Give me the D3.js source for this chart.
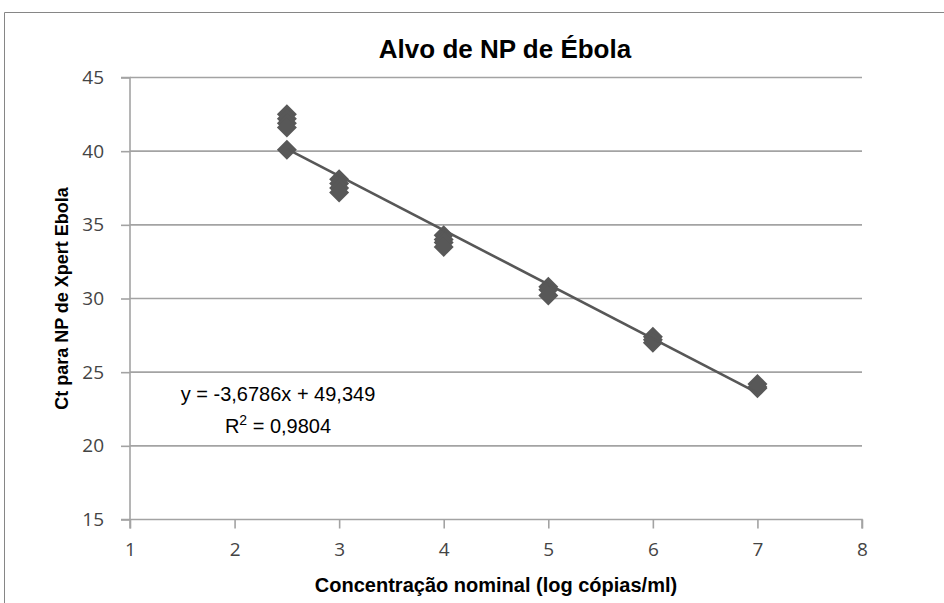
<!DOCTYPE html>
<html>
<head>
<meta charset="utf-8">
<script src="https://cdn.jsdelivr.net/npm/d3@7/dist/d3.min.js"></script>
<style>
  html, body { margin: 0; padding: 0; background: #fff; }
  svg { display: block; }
</style>
</head>
<body>
<svg id="chart" width="944" height="603"></svg>
<script>
// Concentration levels (log copies/ml) and measured Ct values at each level
const concLevels = [2.5, 2.5, 2.5, 2.5, 2.5, 3, 3, 3, 3, 4, 4, 4, 4, 5, 5, 5, 6, 6, 6, 7, 7, 7];
const ctValues   = [42.5, 42.2, 41.9, 41.6, 40.1, 38.1, 37.8, 37.5, 37.2, 34.3, 34.0, 33.8, 33.5, 30.8, 30.6, 30.2, 27.4, 27.2, 27.0, 24.2, 24.0, 23.9];

// Linear trendline
const slope = -3.6786;
const intercept = 49.349;
const rSquared = 0.9804;
const trendRange = [2.5, 7];

const xTicks = [1, 2, 3, 4, 5, 6, 7, 8];
const yTicks = [15, 20, 25, 30, 35, 40, 45];

const title = "Alvo de NP de Ébola";
const xTitle = "Concentração nominal (log cópias/ml)";
const yTitle = "Ct para NP de Xpert Ebola";

const fmt = v => String(v).replace(".", ",");

const svg = d3.select("#chart");

// outer chart frame (only top and left edges fall inside the view)
svg.append("path")
  .attr("d", "M4.5,603 V12.5 H944")
  .attr("fill", "none")
  .attr("stroke", "#868686")
  .attr("stroke-width", 1);

const plot = { left: 130, right: 862, top: 77.5, bottom: 519.5 };

const x = d3.scaleLinear().domain([1, 8]).range([plot.left, plot.right]);
const y = d3.scaleLinear().domain([15, 45]).range([plot.bottom, plot.top]);

// horizontal gridlines
svg.append("g")
  .selectAll("line")
  .data(yTicks.slice(1))
  .join("line")
  .attr("x1", plot.left).attr("x2", plot.right)
  .attr("y1", d => y(d)).attr("y2", d => y(d))
  .attr("stroke", "#a3a3a3")
  .attr("stroke-width", 1.6);

// axes
const xAxis = svg.append("g")
  .attr("transform", `translate(0,${plot.bottom})`)
  .call(d3.axisBottom(x).tickValues(xTicks).tickSize(9).tickPadding(14).tickFormat(d => d));
const yAxis = svg.append("g")
  .attr("transform", `translate(${plot.left},0)`)
  .call(d3.axisLeft(y).tickValues(yTicks).tickSize(9).tickPadding(17).tickFormat(d => d));

[xAxis, yAxis].forEach(g => {
  g.select(".domain").attr("stroke", "#a3a3a3").attr("stroke-width", 1.6);
  g.selectAll(".tick line").attr("stroke", "#a3a3a3").attr("stroke-width", 1.6);
  g.selectAll(".tick text")
    .attr("fill", "#444")
    .style("font-family", "'Open Sans', sans-serif")
    .style("font-size", "19px");
});
xAxis.select(".domain").attr("d", `M${plot.left},9V0H${plot.right}V9`);
yAxis.select(".domain").attr("d", `M-9,${plot.top}H0V${plot.bottom}H-9`);

// data markers: rotated squares
const diamond = d3.symbol().type(d3.symbolSquare).size(200);
svg.append("g")
  .selectAll("path")
  .data(concLevels.map((c, i) => [c, ctValues[i]]))
  .join("path")
  .attr("d", diamond)
  .attr("transform", d => `translate(${x(d[0])},${y(d[1])}) rotate(45)`)
  .attr("fill", "#585858");

// trendline
svg.append("line")
  .attr("x1", x(trendRange[0])).attr("y1", y(slope * trendRange[0] + intercept))
  .attr("x2", x(trendRange[1])).attr("y2", y(slope * trendRange[1] + intercept))
  .attr("stroke", "#575757")
  .attr("stroke-width", 2.6);

// trendline equation, two centred lines
const eq = svg.append("g")
  .style("font-family", "'Liberation Sans', Arial, sans-serif")
  .style("font-size", "20px")
  .attr("fill", "#000")
  .attr("text-anchor", "middle");
eq.append("text")
  .attr("x", 278).attr("y", 401)
  .text(`y = ${fmt(slope)}x + ${fmt(intercept)}`);
const r2 = eq.append("text").attr("x", 278).attr("y", 433);
r2.append("tspan").text("R");
r2.append("tspan").attr("dy", -8).style("font-size", "14px").text("2");
r2.append("tspan").attr("dy", 8).text(` = ${fmt(rSquared)}`);

// titles
svg.append("text")
  .attr("x", 505).attr("y", 58)
  .attr("text-anchor", "middle")
  .style("font-family", "'Liberation Sans', Arial, sans-serif")
  .style("font-weight", "bold")
  .style("font-size", "26px")
  .text(title);

svg.append("text")
  .attr("x", (plot.left + plot.right) / 2).attr("y", 592)
  .attr("text-anchor", "middle")
  .style("font-family", "'Liberation Sans', Arial, sans-serif")
  .style("font-weight", "bold")
  .style("font-size", "20px")
  .text(xTitle);

svg.append("text")
  .attr("transform", `translate(68,${(plot.top + plot.bottom) / 2}) rotate(-90)`)
  .attr("text-anchor", "middle")
  .style("font-family", "'Liberation Sans', Arial, sans-serif")
  .style("font-weight", "bold")
  .style("font-size", "18px")
  .text(yTitle);
</script>
</body>
</html>
